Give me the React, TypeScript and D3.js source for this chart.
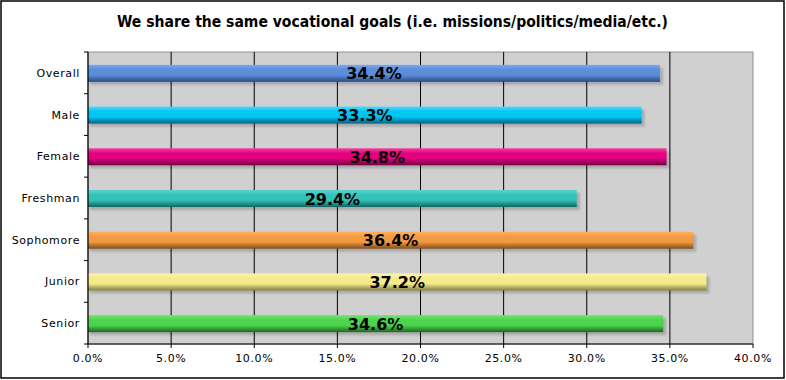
import React from "react";
import * as d3 from "d3";

const title = "We share the same vocational goals (i.e. missions/politics/media/etc.)";
const categories = ["Overall", "Male", "Female", "Freshman", "Sophomore", "Junior", "Senior"];
const values = [0.344, 0.333, 0.348, 0.294, 0.364, 0.372, 0.346];
const baseColors = ["#5b8ddb", "#00c6f2", "#e2007f", "#33c2ba", "#f39a40", "#f4ea8c", "#4cd44c"];
const darkColors = ["#2a4a80", "#006282", "#6e0040", "#116460", "#7e4e1e", "#86803e", "#1f6420"];
const lightColors = ["#78a8f0", "#4ad8ff", "#f040a0", "#5ad4cc", "#ffb060", "#fff4a8", "#70e470"];
const xTicks = [0, 0.05, 0.1, 0.15, 0.2, 0.25, 0.3, 0.35, 0.4];

const W = 786;
const H = 380;
const plot = { left: 88, right: 753, top: 52, bottom: 344 };

export default function App() {
  const x = d3.scaleLinear().domain([0, 0.4]).range([plot.left, plot.right]);
  const y = d3.scaleBand().domain(categories).range([plot.top, plot.bottom]).paddingInner(0).paddingOuter(0);
  const fmt = d3.format(".1%");
  const barH = 17;
  const font = "'DejaVu Sans', Verdana, sans-serif";
  const bounds = [...categories.map((c) => y(c) as number), plot.bottom];

  return (
    <svg width={W} height={H} style={{ position: "absolute", left: 0, top: 0 }} xmlns="http://www.w3.org/2000/svg">
      <defs>
        {categories.map((c, i) => (
          <linearGradient key={c} id={`g${i}`} x1="0" y1="0" x2="0" y2="1">
            <stop offset="0%" stopColor={lightColors[i]} />
            <stop offset="30%" stopColor={baseColors[i]} />
            <stop offset="60%" stopColor={baseColors[i]} />
            <stop offset="100%" stopColor={darkColors[i]} />
          </linearGradient>
        ))}
        <filter id="blur" x="-5%" y="-50%" width="110%" height="200%">
          <feGaussianBlur stdDeviation="1.2" />
        </filter>
      </defs>
      <rect x={0} y={0} width={W} height={H} fill="#ffffff" />
      <rect x={1} y={1} width={783} height={377} fill="#ffffff" stroke="#000" strokeWidth={1.5} />
      <text
        x={392.5}
        y={27}
        textAnchor="middle"
        fontFamily="'DejaVu Sans Condensed', 'DejaVu Sans', sans-serif"
        fontWeight="bold"
        fontSize={15}
        textLength={551}
        lengthAdjust="spacingAndGlyphs"
        fill="#000"
      >
        {title}
      </text>
      <rect x={plot.left} y={plot.top} width={plot.right - plot.left} height={plot.bottom - plot.top} fill="#d0d0d0" stroke="#909090" strokeWidth={1} />
      {xTicks.slice(1, -1).map((t) => (
        <line key={t} x1={x(t)} x2={x(t)} y1={plot.top} y2={plot.bottom} stroke="#000" strokeWidth={1} />
      ))}
      {categories.map((c, i) => {
        const yc = (y(c) as number) + y.bandwidth() / 2 + 0.5;
        const y0 = yc - barH / 2;
        const w = x(values[i]) - x(0);
        return (
          <g key={c}>
            <rect x={x(0) + 2} y={y0 + 3} width={w + 1} height={barH} fill="#000" opacity={0.18} filter="url(#blur)" />
            <rect x={x(0)} y={y0} width={w} height={barH} fill={`url(#g${i})`} />
            <text
              x={x(0) + w / 2}
              y={yc + 6}
              textAnchor="middle"
              fontFamily={font}
              fontWeight="bold"
              fontSize={16}
              fill="#000"
            >
              {fmt(values[i])}
            </text>
            <text x={80} y={yc + 3.5} textAnchor="end" fontFamily={font} fontSize={11} fill="#000" letterSpacing={0.6}>
              {c}
            </text>
          </g>
        );
      })}
      <line x1={plot.left} x2={plot.left} y1={plot.top} y2={plot.bottom} stroke="#000" strokeWidth={1.2} />
      <line x1={plot.left} x2={plot.right} y1={plot.bottom} y2={plot.bottom} stroke="#000" strokeWidth={1.2} />
      {bounds.map((b, i) => (
        <line key={i} x1={plot.left - 4} x2={plot.left} y1={b} y2={b} stroke="#000" strokeWidth={1} />
      ))}
      {xTicks.map((t) => (
        <g key={t}>
          <line x1={x(t)} x2={x(t)} y1={plot.bottom} y2={plot.bottom + 4} stroke="#000" strokeWidth={1} />
          <text x={x(t)} y={362} textAnchor="middle" fontFamily={font} fontSize={11} fill="#000" letterSpacing={0.6}>
            {fmt(t)}
          </text>
        </g>
      ))}
    </svg>
  );
}
